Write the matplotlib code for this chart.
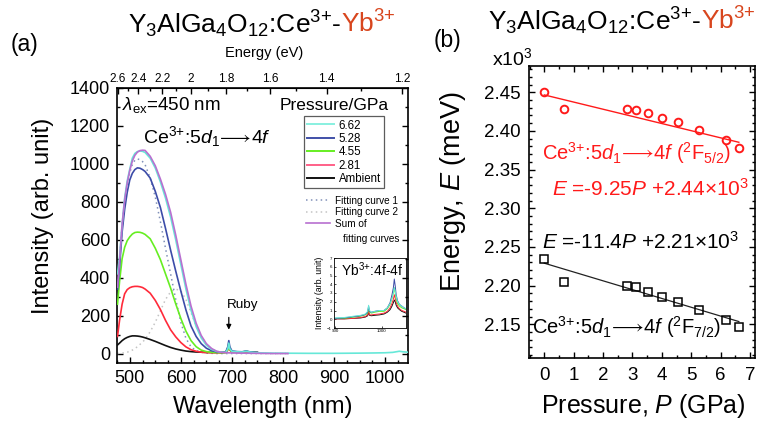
import numpy as np
import matplotlib
matplotlib.use('Agg')
import matplotlib.pyplot as plt
from matplotlib.lines import Line2D
from matplotlib.ticker import MultipleLocator, FixedLocator, NullFormatter

plt.rcParams['font.family'] = ['Liberation Sans', 'DejaVu Sans']
plt.rcParams['mathtext.fontset'] = 'custom'
plt.rcParams['mathtext.rm'] = 'Liberation Sans'
plt.rcParams['mathtext.it'] = 'Liberation Sans:italic'
plt.rcParams['mathtext.bf'] = 'Liberation Sans:bold'
plt.rcParams['mathtext.fallback'] = 'stixsans'
plt.rcParams['xtick.direction'] = 'in'
plt.rcParams['ytick.direction'] = 'in'

# ---------------- data : panel (a) ----------------
wl_main = [476, 480, 485, 490, 495, 500, 505, 510, 515, 520, 525, 530, 540, 550, 560,
           570, 580, 590, 600, 610, 620, 630, 640, 650, 660, 670, 680,
           688, 692, 694, 696, 700, 710, 720, 728, 735, 750]
int_662 = [420, 510, 680, 820, 910, 972, 1030, 1055, 1065, 1068, 1066, 1060, 1030, 978, 905,
           820, 720, 600, 470, 340, 228, 142, 82, 44, 22, 11, 7,
           6, 25, 55, 25, 12, 9, 8, 12, 8, 4]
wl_662_tail = [780, 850, 900, 950, 980, 1000, 1015, 1028, 1035, 1045]
int_662_tail = [2, 1, 1, 2, 3, 4, 6, 12, 9, 7]
int_528 = [340, 455, 640, 760, 850, 915, 950, 970, 979, 977, 970, 960, 925, 855, 770,
           660, 545, 435, 330, 230, 145, 90, 52, 28, 15, 9, 6,
           8, 35, 68, 35, 14, 10, 9, 13, 9, 5]
int_455 = [260, 380, 500, 560, 595, 615, 630, 638, 640, 639, 635, 628, 605, 555, 495,
           420, 345, 262, 185, 118, 68, 36, 18, 10, 6, 5, 4,
           5, 20, 45, 20, 9, 7, 6, 10, 7, 4]
int_281 = [90, 175, 260, 315, 337, 347, 352, 354, 354, 352, 348, 340, 318, 280, 232,
           175, 125, 88, 58, 35, 20, 12, 7, 5, 4, 4, 4,
           5, 18, 40, 18, 8, 6, 5, 8, 6, 3]
int_amb = [45, 55, 68, 78, 85, 90, 93, 93, 92, 90, 87, 83, 74, 64, 53,
           42, 32, 24, 18, 13, 10, 8, 7, 6, 6, 6, 6,
           7, 25, 50, 25, 10, 8, 8, 11, 8, 6]

wl_fit = [476, 480, 485, 490, 495, 500, 505, 510, 515, 520, 525, 530, 540, 550, 560,
          570, 580, 590, 600, 610, 620, 630, 640, 650, 660, 670, 680, 700, 720, 750, 780, 810]
fit_1 = [350, 490, 678, 806, 893, 953, 997, 1019, 1026, 1022, 1012, 996, 925, 825, 695,
         555, 420, 285, 165, 80, 35, 15, 7, 3, 1, 0, 0, 0, 0, 0, 0, 0]
fit_2 = [0, 1, 2, 4, 7, 12, 18, 26, 36, 48, 60, 75, 115, 165, 225,
         285, 325, 340, 330, 285, 215, 145, 88, 49, 26, 12, 6, 3, 2, 1, 0, 0]

pressure_labels = ['6.62', '5.28', '4.55', '2.81', 'Ambient']
curve_colors = ['#66e8d8', '#3c4ca8', '#66ee22', '#ff2a3a', '#111111']
legend_colors = ['#88f0e0', '#4050a8', '#66ee22', '#ff6088', '#111111']

# inset (Yb3+ 4f-4f)
wl_ins = [900, 920, 940, 955, 965, 970, 972, 974, 978, 985, 995, 1005, 1012, 1018, 1022,
          1025, 1027, 1029, 1031, 1034, 1038, 1043, 1048, 1052]
ins_662 = [0.15, 0.2, 0.35, 0.45, 0.6, 0.9, 1.6, 1.0, 0.8, 0.9, 1.0, 1.0, 1.3, 1.8, 2.4,
           3.0, 3.6, 3.2, 2.6, 2.0, 1.7, 1.5, 1.3, 1.2]
ins_528 = [0.1, 0.15, 0.3, 0.4, 0.55, 0.8, 1.5, 0.9, 0.8, 0.9, 1.0, 1.0, 1.3, 1.9, 2.8,
           3.6, 4.6, 3.8, 2.8, 2.1, 1.7, 1.5, 1.3, 1.2]
ins_455 = [0.1, 0.1, 0.25, 0.35, 0.5, 0.7, 1.3, 0.8, 0.7, 0.8, 0.9, 0.9, 1.2, 1.7, 2.4,
           3.0, 3.6, 3.0, 2.3, 1.8, 1.5, 1.3, 1.2, 1.1]
ins_281 = [0.05, 0.05, 0.1, 0.2, 0.3, 0.5, 1.0, 0.5, 0.5, 0.55, 0.6, 0.7, 0.9, 1.3, 1.8,
           2.3, 2.8, 2.4, 1.9, 1.5, 1.2, 1.0, 0.9, 0.8]
ins_amb = [0.05, 0.05, 0.1, 0.15, 0.25, 0.4, 0.8, 0.45, 0.4, 0.45, 0.5, 0.6, 0.8, 1.1, 1.5,
           1.9, 2.2, 2.0, 1.6, 1.3, 1.1, 0.9, 0.8, 0.7]

energy_ticks = [2.6, 2.4, 2.2, 2.0, 1.8, 1.6, 1.4, 1.2]
energy_labels = ['2.6', '2.4', '2.2', '2', '1.8', '1.6', '1.4', '1.2']
energy_minor = [2.5, 2.3, 2.1, 1.9, 1.7, 1.5, 1.3]

# ---------------- data : panel (b) ----------------
pressure = [0.0, 0.68, 2.81, 3.11, 3.54, 3.99, 4.56, 5.28, 6.18, 6.62]
E_52 = [2.4505, 2.4280, 2.4290, 2.4277, 2.4234, 2.4170, 2.4110, 2.4006, 2.3877, 2.3778]
E_72 = [2.2345, 2.2044, 2.1996, 2.1980, 2.1919, 2.1858, 2.1786, 2.1682, 2.1561, 2.1463]
fit52_slope, fit52_icpt = -0.00925, 2.4466
fit72_slope, fit72_icpt = -0.0114, 2.2290

W, H = 760, 422
fig = plt.figure(figsize=(7.6, 4.22), dpi=100)


def px_axes(l, t, r, b):
    return fig.add_axes([l / W, 1 - b / H, (r - l) / W, (b - t) / H])


def ftext(x, y, s, **kw):
    return fig.text(x / W, 1 - y / H, s, **kw)


RED = '#ff1a1a'
CE = r'Ce$^{3{+}}$:5$\mathit{d}_{1}\!{\longrightarrow}\!$4$\mathit{f}$'

# ================= panel (a) =================
axL = px_axes(117, 88, 408, 363)
axL.plot(wl_fit, fit_2, linestyle=(0, (1, 2.2)), color='#c4c4c4', lw=1.1, zorder=2)
axL.plot(wl_fit, fit_1, linestyle=(0, (1, 2.2)), color='#8090b8', lw=1.1, zorder=2)
series = [int_amb, int_281, int_455, int_528]
for vals, col in zip(series, curve_colors[::-1][:4]):
    axL.plot(wl_main, vals, color=col, lw=1.2, zorder=3)
axL.plot(wl_main + wl_662_tail, int_662 + int_662_tail, color=curve_colors[0], lw=1.2, zorder=3)
sum_fit = [a + b for a, b in zip(fit_1, fit_2)]
axL.plot(wl_fit, sum_fit, color='#b870d0', lw=1.2, zorder=4)

axL.set_xlim(475, 1045)
axL.set_ylim(-50, 1400)
axL.xaxis.set_major_locator(MultipleLocator(100))
axL.xaxis.set_minor_locator(MultipleLocator(25))
axL.yaxis.set_major_locator(MultipleLocator(200))
axL.yaxis.set_minor_locator(MultipleLocator(100))
axL.tick_params(which='both', right=True, top=False, labelsize=13, width=1.0)
axL.tick_params(which='major', length=4.5, pad=5)
axL.tick_params(which='minor', length=2.5)
for s in axL.spines.values():
    s.set_linewidth(1.2)


def _e(x):
    x = np.asarray(x, float)
    with np.errstate(divide='ignore', invalid='ignore'):
        return 1239.84 / np.where(x == 0, np.nan, x)


secL = axL.secondary_xaxis('top', functions=(_e, _e))
secL.xaxis.set_major_locator(FixedLocator(energy_ticks))
secL.set_xticklabels(energy_labels)
secL.xaxis.set_minor_locator(FixedLocator(energy_minor))
secL.xaxis.set_minor_formatter(NullFormatter())
secL.tick_params(which='both', direction='in', labelsize=8.5, pad=2, width=1.0)
secL.tick_params(which='major', length=4.5)
secL.tick_params(which='minor', length=2.5)

# legend (pressure)
handles = [Line2D([], [], color=c, lw=1.4) for c in legend_colors]
leg = axL.legend(handles, pressure_labels, loc='upper left', bbox_to_anchor=(0.6426, 0.898),
                 borderaxespad=0, fontsize=8.3, frameon=True, fancybox=False, edgecolor='#333333',
                 handlelength=2.3, handletextpad=0.4, labelspacing=0.12, borderpad=0.3)
leg.get_frame().set_linewidth(0.9)
axL.add_artist(leg)
fit_handles = [Line2D([], [], color='#8090b8', lw=1.1, linestyle=(0, (1, 2.2))),
               Line2D([], [], color='#c4c4c4', lw=1.1, linestyle=(0, (1, 2.2))),
               Line2D([], [], color='#b870d0', lw=1.2)]
leg2 = axL.legend(fit_handles, ['Fitting curve 1', 'Fitting curve 2', 'Sum of'], loc='upper left',
                  bbox_to_anchor=(0.6426, 0.615), borderaxespad=0, fontsize=7.2, frameon=False,
                  handlelength=2.4, handletextpad=0.5, labelspacing=0.15, borderpad=0.2)
axL.text(0.7766, 0.4498, 'fitting curves', transform=axL.transAxes, fontsize=7.2, va='center', ha='left')

axL.text(0.016, 0.938, r'$\lambda_{\mathrm{ex}}$=450 nm', transform=axL.transAxes, fontsize=13.5,
         va='center', ha='left')
axL.text(0.56, 0.938, 'Pressure/GPa', transform=axL.transAxes, fontsize=12.5, va='center', ha='left')
axL.text(0.0904, 0.823, CE, transform=axL.transAxes, fontsize=14, va='center', ha='left')
axL.annotate('', xy=(694, 111), xytext=(694, 205),
             arrowprops=dict(arrowstyle='-|>', color='black', lw=0.9, mutation_scale=7))
axL.text(691, 257, 'Ruby', fontsize=9.7, va='center', ha='left')

# inset
axI = px_axes(333.5, 258, 406, 328)
for vals, col in zip([ins_amb, ins_281, ins_455, ins_528, ins_662], curve_colors[::-1]):
    axI.plot(wl_ins, vals, color=col, lw=0.7)
axI.set_xlim(897, 1052)
axI.set_ylim(-1, 7)
axI.xaxis.set_major_locator(FixedLocator([900, 1000]))
axI.yaxis.set_major_locator(MultipleLocator(1))
axI.tick_params(labelsize=3.2, length=1.5, width=0.5, pad=1)
axI.set_ylabel('Intensity (arb. unit)', fontsize=6.3, labelpad=2)
for s in axI.spines.values():
    s.set_linewidth(0.6)
axI.patch.set_alpha(0)
axI.text(0.11, 0.83, r'Yb$^{3{+}}$:4f-4f', transform=axI.transAxes, fontsize=10, va='center', ha='left')

ftext(263, 407, 'Wavelength (nm)', fontsize=17, ha='center', va='center')
ftext(43, 216, 'Intensity (arb. unit)', fontsize=17, ha='center', va='center', rotation=90)
ftext(264, 53, 'Energy (eV)', fontsize=10.5, ha='center', va='center')
ftext(25, 45, '(a)', fontsize=16.5, ha='center', va='center')

# ================= panel (b) =================
axR = px_axes(529, 66, 755, 358.3)
P_line = [pressure[0], pressure[-1]]
axR.plot(P_line, [fit52_icpt + fit52_slope * p for p in P_line], color=RED, lw=1.0)
axR.plot(P_line, [fit72_icpt + fit72_slope * p for p in P_line], color='#222222', lw=0.9)
axR.plot(pressure, E_52, linestyle='none', marker='o', ms=5.5, mfc='none', mec=RED, mew=1.4)
axR.plot(pressure, E_72, linestyle='none', marker='s', ms=5.2, mfc='none', mec='black', mew=1.1)
axR.set_xlim(-0.52, 7.17)
axR.set_ylim(2.106, 2.484)
axR.xaxis.set_major_locator(MultipleLocator(1))
axR.xaxis.set_minor_locator(MultipleLocator(0.5))
axR.yaxis.set_major_locator(MultipleLocator(0.05))
axR.yaxis.set_minor_locator(MultipleLocator(0.01))
axR.yaxis.set_major_formatter(matplotlib.ticker.FormatStrFormatter('%.2f'))
axR.tick_params(which='both', right=True, top=True, labelsize=13.5, width=1.0)
axR.tick_params(which='major', length=4.5, pad=6)
axR.tick_params(which='minor', length=2.5)
for s in axR.spines.values():
    s.set_linewidth(1.2)

axR.text(-0.09, 2.371, CE + r' ($^{2}$F$_{5/2}$)', color=RED, fontsize=14.5, va='center', ha='left')
axR.text(0.25, 2.3257, r'$E$ =-9.25$P$ +2.44×10$^{3}$', color=RED, fontsize=15, va='center', ha='left')
axR.text(-0.09, 2.2565, r'$E$ =-11.4$P$ +2.21×10$^{3}$', color='black', fontsize=15, va='center', ha='left')
axR.text(-0.43, 2.1464, CE + r' ($^{2}$F$_{7/2}$)', color='black', fontsize=14.5, va='center', ha='left')

ftext(643, 406, r'Pressure, $P$ (GPa)', fontsize=18, ha='center', va='center')
ftext(453, 192, r'Energy, $E$ (meV)', fontsize=19.5, ha='center', va='center', rotation=90)
ftext(492, 65, r'x10$^{3}$', fontsize=14, ha='left', va='baseline')
ftext(448, 40, '(b)', fontsize=16.5, ha='center', va='center')

# titles (two colours)
titles = []
for cx, base in [(262, 33), (622, 30)]:
    t1 = ftext(0, base, r'Y$_{3}$AlGa$_{4}$O$_{12}$:Ce$^{3{+}}$-', fontsize=19, ha='left', va='baseline')
    t2 = ftext(0, base, r'Yb$^{3{+}}$', fontsize=19, ha='left', va='baseline', color='#d8461e')
    titles.append((cx, t1, t2))
fig.canvas.draw()
rend = fig.canvas.get_renderer()
for cx, t1, t2 in titles:
    w1 = t1.get_window_extent(rend).width
    w2 = t2.get_window_extent(rend).width
    x0 = cx - (w1 + w2) / 2
    t1.set_x(x0 / W)
    t2.set_x((x0 + w1) / W)

fig.savefig('out.png', dpi=100)
